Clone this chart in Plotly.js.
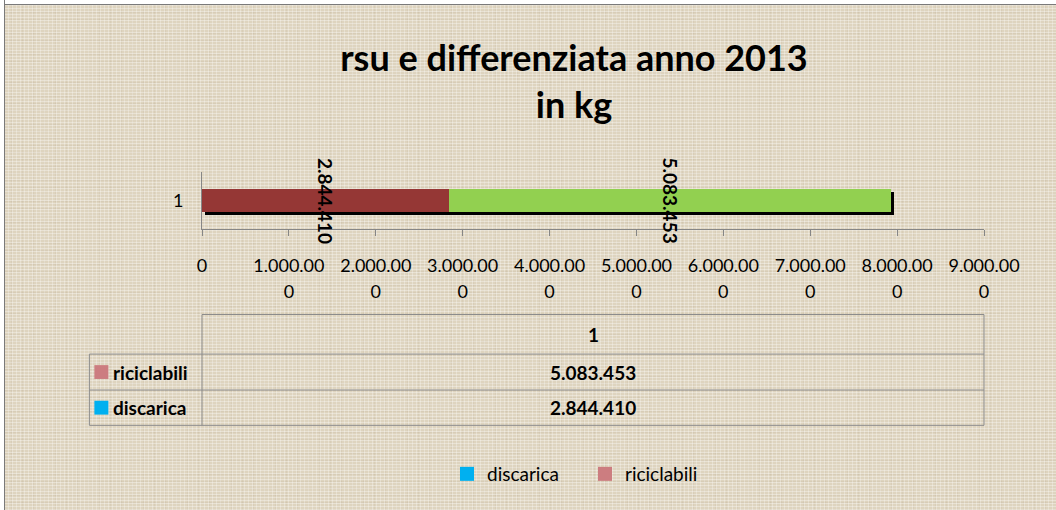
<!DOCTYPE html>
<html>
<head>
<meta charset="utf-8">
<script src="https://cdn.plot.ly/plotly-3.0.1.min.js"></script>
<style>
  html, body { margin:0; padding:0; background:#ffffff; }
  #wrap { position:relative; width:1056px; height:510px; overflow:hidden; }
  #chart {
    position:absolute; left:0; top:0; width:1056px; height:510px;
    background-color:#ded4bf;
    background-image:
      repeating-linear-gradient(0deg, rgba(255,255,255,0.32) 0px, rgba(255,255,255,0.32) 1px, rgba(255,255,255,0) 1px, rgba(255,255,255,0) 3px),
      repeating-linear-gradient(90deg, rgba(255,255,255,0.28) 0px, rgba(255,255,255,0.28) 1px, rgba(255,255,255,0) 1px, rgba(255,255,255,0) 4px),
      repeating-linear-gradient(0deg, rgba(140,120,90,0.08) 0px, rgba(140,120,90,0.08) 1px, rgba(0,0,0,0) 1px, rgba(0,0,0,0) 7px),
      repeating-linear-gradient(90deg, rgba(140,120,90,0.07) 0px, rgba(140,120,90,0.07) 1px, rgba(0,0,0,0) 1px, rgba(0,0,0,0) 11px);
  }
  .strip { position:absolute; background:#ffffff; pointer-events:none; }
  #topStrip { left:0; top:0; width:1056px; height:4px; border-bottom:1px solid #7a7a7a; }
  #leftStrip { left:0; top:0; width:4px; height:510px; border-right:1px solid #7a7a7a; }
</style>
</head>
<body>
<div id="wrap">
  <div id="chart"></div>
  <div class="strip" id="topStrip"></div>
  <div class="strip" id="leftStrip"></div>
</div>
<script>
// ---- data ----
var categories = ['1'];
var seriesNames = ['discarica', 'riciclabili'];
var discaricaValues = [2844410];
var riciclabiliValues = [5083453];
var tickValues = [0, 1000000, 2000000, 3000000, 4000000, 5000000, 6000000, 7000000, 8000000, 9000000];
var titleText = 'rsu e differenziata anno 2013<br>in kg';

// ---- styles ----
var barColors = ['#953735', '#92d050'];
var keyColors = ['#00b0f0', '#cc7d80'];
var FONT = 'Lato, Carlito, "Open Sans", sans-serif';

function fmt(v) { return String(v).replace(/\B(?=(\d{3})+(?!\d))/g, '.'); }
var tickFull = tickValues.map(fmt);
var tickLine1 = tickFull.map(function (s) { return s.slice(0, 8); });
var tickLine2 = tickFull.map(function (s) { return s.slice(8); });

// plot area geometry (pixels)
var W = 1056, H = 510;
var PL = 201.7, PR = 984.3, PT = 171.7, PB = 229.3;
function xp(px) { return (px - PL) / (PR - PL); }
function yp(py) { return (PB - py) / (PB - PT); }

var xMax = tickValues[tickValues.length - 1];
var totals = categories.map(function (c, i) { return discaricaValues[i] + riciclabiliValues[i]; });
var shadowShift = 3 / (PB - PT);

var traces = [
  // shadow (drawn first, on the base subplot)
  { type:'bar', orientation:'h', y:categories, x:totals,
    base: totals.map(function (t) { return t * 0.004; }),
    xaxis:'x', yaxis:'y', width:0.41, marker:{color:'#000000'},
    showlegend:false, hoverinfo:'skip' },
  { type:'bar', orientation:'h', name:seriesNames[0], y:categories, x:discaricaValues,
    xaxis:'x2', yaxis:'y2', width:0.41, marker:{color:barColors[0]}, showlegend:false },
  { type:'bar', orientation:'h', name:seriesNames[1], y:categories, x:riciclabiliValues,
    xaxis:'x2', yaxis:'y2', width:0.41, marker:{color:barColors[1]}, showlegend:false },
  // legend entries (as in the original, the key colours differ from the bars)
  { type:'scatter', mode:'markers', name:seriesNames[0], x:[null], y:[null], xaxis:'x', yaxis:'y',
    marker:{symbol:'square', size:14, color:keyColors[0]}, hoverinfo:'skip' },
  { type:'scatter', mode:'markers', name:seriesNames[1], x:[null], y:[null], xaxis:'x', yaxis:'y',
    marker:{symbol:'square', size:14, color:keyColors[1]}, hoverinfo:'skip' }
];

var annotations = [];
var boldFont = {family:FONT, size:19, color:'#000000', weight:'bold'};
// data labels (rotated)
var cum = 0;
[discaricaValues, riciclabiliValues].forEach(function (vals) {
  var v = vals[0];
  annotations.push({ xref:'x2', yref:'paper', x: cum + v / 2, y: yp(200.5), text: fmt(v),
    textangle: 90, showarrow:false, xanchor:'center', yanchor:'middle', font:boldFont });
  cum += v;
});

// data table
var lineColor = '#8c8c8c';
var TL = 89, TX = 201.7, TR = 984.3;
var rowY = [315.7, 355.7, 392, 427.7];
var shapes = [];
function hline(x0, x1, y) { shapes.push({type:'line', xref:'paper', yref:'paper', x0:xp(x0), x1:xp(x1), y0:yp(y), y1:yp(y), line:{color:lineColor, width:1}}); }
function vline(x, y0, y1) { shapes.push({type:'line', xref:'paper', yref:'paper', x0:xp(x), x1:xp(x), y0:yp(y0), y1:yp(y1), line:{color:lineColor, width:1}}); }
hline(TX, TR, rowY[0]);
hline(TL, TR, rowY[1]);
hline(TL, TR, rowY[2]);
hline(TL, TR, rowY[3]);
vline(TL, rowY[1], rowY[3]);
vline(TX, rowY[0], rowY[3]);
vline(TR, rowY[0], rowY[3]);

var colCenter = (TX + TR) / 2;
annotations.push({ xref:'paper', yref:'paper', x:xp(colCenter), y:yp((rowY[0] + rowY[1]) / 2), text:categories[0],
  showarrow:false, xanchor:'center', yanchor:'middle', font:boldFont });
// rows: riciclabili first, discarica second (as in the original table)
var tableRows = [
  { name: seriesNames[1], value: riciclabiliValues[0], key: keyColors[1] },
  { name: seriesNames[0], value: discaricaValues[0], key: keyColors[0] }
];
tableRows.forEach(function (r, i) {
  var cy = (rowY[i + 1] + rowY[i + 2]) / 2;
  annotations.push({ xref:'paper', yref:'paper', x:xp(colCenter), y:yp(cy), text:fmt(r.value),
    showarrow:false, xanchor:'center', yanchor:'middle', font:boldFont });
  annotations.push({ xref:'paper', yref:'paper', x:xp(111), y:yp(cy), text:r.name,
    showarrow:false, xanchor:'left', yanchor:'middle', font:boldFont });
  shapes.push({ type:'rect', xref:'paper', yref:'paper', x0:xp(94), x1:xp(108), y0:yp(cy - 7), y1:yp(cy + 7),
    line:{width:0}, fillcolor:r.key });
});

var layout = {
  width: W, height: H,
  margin: { l: PL, r: W - PR, t: PT, b: H - PB, pad: 0 },
  paper_bgcolor: 'rgba(0,0,0,0)',
  plot_bgcolor: 'rgba(0,0,0,0)',
  font: { family: FONT, size: 17, color: '#000000' },
  barmode: 'stack',
  title: { text: titleText, xref:'container', yref:'container', x: 574 / W, xanchor:'center',
    y: 1 - 71 / H, yanchor:'top', font: { family: FONT, size: 36, color:'#000000', weight:'bold' } },
  xaxis: { range:[0, xMax], tickmode:'array', tickvals:tickValues, ticktext:tickLine1,
    showgrid:false, zeroline:false, showline:true, linecolor:'#868686', linewidth:1,
    ticks:'outside', ticklen:6, tickcolor:'#868686', ticklabelstandoff: 14,
    tickfont:{family:FONT, size:18, color:'#000000'}, fixedrange:true },
  xaxis2: { overlaying:'x', side:'bottom', range:[0, xMax], tickmode:'array', tickvals:tickValues, ticktext:tickLine2,
    showgrid:false, zeroline:false, showline:false, ticks:'', ticklabelstandoff: 50,
    tickfont:{family:FONT, size:18, color:'#000000'}, fixedrange:true },
  yaxis: { type:'category', range:[-0.5 + shadowShift, 0.5 + shadowShift], showticklabels:false,
    showgrid:false, zeroline:false, showline:false, ticks:'', fixedrange:true },
  yaxis2: { type:'category', overlaying:'y', side:'left', range:[-0.5, 0.5],
    showgrid:false, zeroline:false, showline:true, linecolor:'#868686', linewidth:1, ticks:'',
    ticklabelstandoff: 14, tickfont:{family:FONT, size:18, color:'#000000'}, fixedrange:true },
  showlegend: true,
  legend: { orientation:'h', xref:'container', yref:'container', x: 447 / W, xanchor:'left',
    y: 1 - 474 / H, yanchor:'middle', traceorder:'normal', bgcolor:'rgba(0,0,0,0)',
    font:{family:FONT, size:19, color:'#000000'}, entrywidth: 93, itemclick:false, itemdoubleclick:false },
  annotations: annotations,
  shapes: shapes
};

Plotly.newPlot('chart', traces, layout, { staticPlot:true, displayModeBar:false });
</script>
</body>
</html>
